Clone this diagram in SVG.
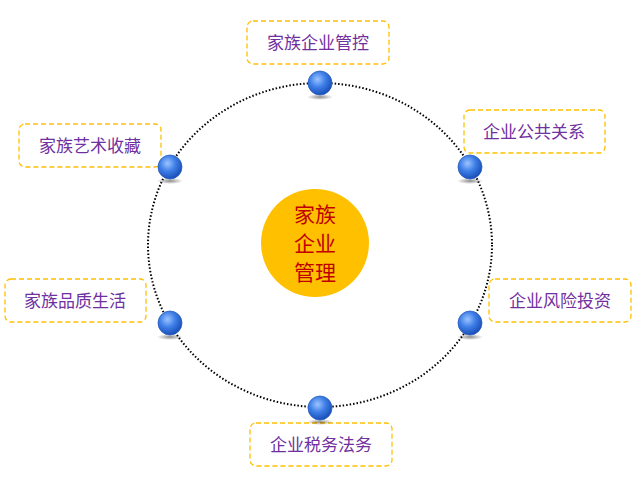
<svg xmlns="http://www.w3.org/2000/svg" width="644" height="486" viewBox="0 0 644 486">
<defs>
<radialGradient id="ball" cx="0.4" cy="0.35" r="0.65">
<stop offset="0" stop-color="#9cc4ff"/><stop offset="0.5" stop-color="#3f7fe8"/><stop offset="1" stop-color="#1a4fb8"/>
</radialGradient>
<radialGradient id="sh" cx="0.5" cy="0.5" r="0.5"><stop offset="0" stop-color="#000" stop-opacity="0.45"/><stop offset="1" stop-color="#000" stop-opacity="0"/></radialGradient>
<g id="b"><ellipse cx="0" cy="14" rx="13" ry="3" fill="url(#sh)"/><circle r="12" fill="url(#ball)" stroke="#2a5fc0" stroke-width="0.8"/></g>
</defs>
<style>
.box{fill:#fff;stroke:#ffc000;stroke-width:1.3;stroke-dasharray:5 3}
.t{font-family:"Noto Sans CJK SC",sans-serif;font-size:17px;fill:#7030a0;text-anchor:middle}
.c{font-family:"Noto Sans CJK SC",sans-serif;font-size:21px;fill:#c00000;text-anchor:middle}
</style>
<rect width="644" height="486" fill="#fff"/>
<g id="connectors">
<ellipse cx="320" cy="245" rx="172" ry="162" fill="none" stroke="#000" stroke-width="2" stroke-dasharray="1.5 2"/>
</g>
<g id="center"><circle cx="315" cy="243" r="54" fill="#ffc000"/>
<text class="c" x="315" y="222">家族</text><text class="c" x="315" y="251">企业</text><text class="c" x="315" y="280">管理</text></g>
<g id="n1"><rect class="box" x="247" y="21" width="142" height="43" rx="6"/><text class="t" x="318" y="49">家族企业管控</text><use href="#b" x="320" y="83"/></g>
<g id="n2"><rect class="box" x="464" y="110" width="141" height="43" rx="6"/><text class="t" x="534" y="138">企业公共关系</text><use href="#b" x="470" y="167"/></g>
<g id="n3"><rect class="box" x="489" y="279" width="142" height="43" rx="6"/><text class="t" x="560" y="307">企业风险投资</text><use href="#b" x="470" y="323"/></g>
<g id="n4"><rect class="box" x="250" y="423" width="142" height="43" rx="6"/><text class="t" x="321" y="451">企业税务法务</text><use href="#b" x="320" y="408"/></g>
<g id="n5"><rect class="box" x="5" y="279" width="141" height="43" rx="6"/><text class="t" x="75" y="307">家族品质生活</text><use href="#b" x="170" y="323"/></g>
<g id="n6"><rect class="box" x="19" y="124" width="142" height="43" rx="6"/><text class="t" x="90" y="152">家族艺术收藏</text><use href="#b" x="170" y="167"/></g>
</svg>
